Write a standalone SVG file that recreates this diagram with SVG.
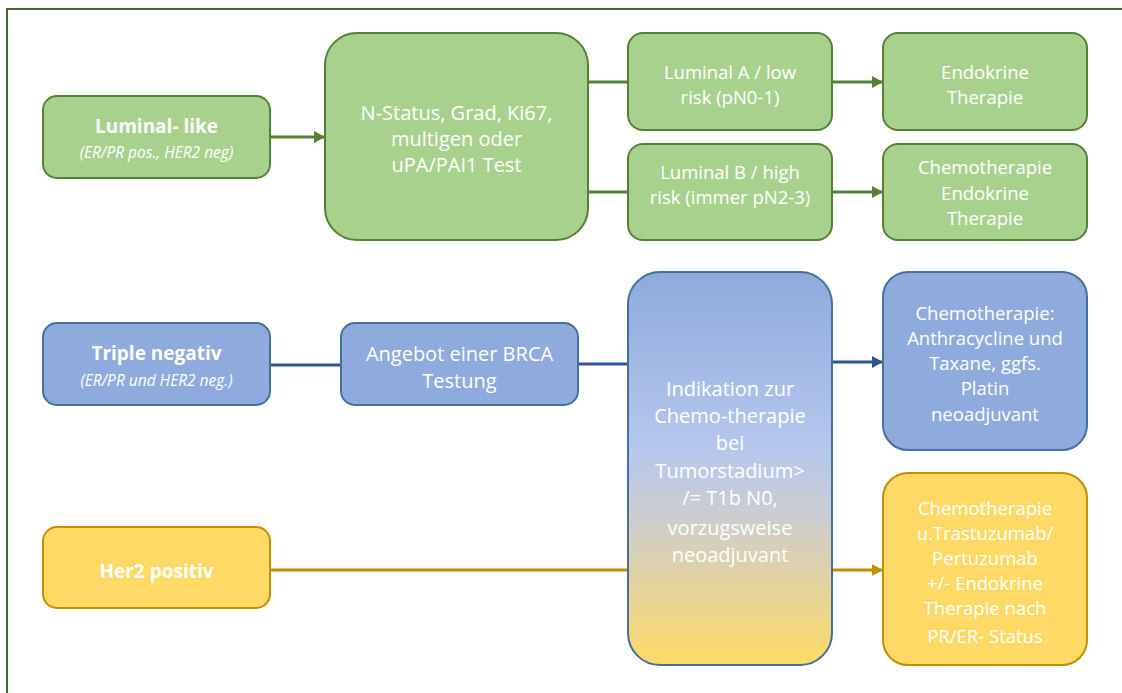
<svg xmlns="http://www.w3.org/2000/svg" width="1122" height="693" viewBox="0 0 1122 693">
<defs>
<linearGradient id="gInd" x1="0" y1="0" x2="0" y2="1">
<stop offset="0" stop-color="#8eaadb"/>
<stop offset="0.45" stop-color="#b6c7ee"/>
<stop offset="0.63" stop-color="#cdcdcd"/>
<stop offset="1" stop-color="#ffda66"/>
</linearGradient>
<marker id="aG" markerWidth="11" markerHeight="12" refX="11" refY="6" orient="auto" markerUnits="userSpaceOnUse"><path d="M0,0 L11,6 L0,12 Z" fill="#548235"/></marker>
<marker id="aB" markerWidth="11" markerHeight="12" refX="11" refY="6" orient="auto" markerUnits="userSpaceOnUse"><path d="M0,0 L11,6 L0,12 Z" fill="#2f5597"/></marker>
<marker id="aY" markerWidth="11" markerHeight="12" refX="11" refY="6" orient="auto" markerUnits="userSpaceOnUse"><path d="M0,0 L11,6 L0,12 Z" fill="#bf9000"/></marker>
</defs>
<style>
text{font-family:"Open Sans","Noto Sans","Liberation Sans",sans-serif;fill:#ffffff;text-anchor:middle;dominant-baseline:central}
.g{fill:#a9d18e;stroke:#548235;stroke-width:2}
.b{fill:#8faadc;stroke:#41719c;stroke-width:2}
.y{fill:#ffd966;stroke:#bf9000;stroke-width:2}
.t18{font-size:18.5px}
.t20{font-size:20px}
.bold{font-weight:bold;font-size:19px}
.it{font-style:italic;font-size:15.5px}
.cg{stroke:#548235;stroke-width:3;fill:none}
.cb{stroke:#2f5597;stroke-width:3;fill:none}
.cy{stroke:#bf9000;stroke-width:3;fill:none}
</style>
<rect width="1122" height="693" fill="#ffffff"/>
<rect x="7" y="9" width="1130" height="700" fill="none" stroke="#43682b" stroke-width="2"/>

<g id="connectors">
<line class="cg" x1="270" y1="137" x2="325" y2="137" marker-end="url(#aG)"/>
<line class="cg" x1="588" y1="82" x2="628" y2="82"/>
<line class="cg" x1="588" y1="192" x2="628" y2="192"/>
<line class="cg" x1="832" y1="82" x2="883" y2="82" marker-end="url(#aG)"/>
<line class="cg" x1="832" y1="192" x2="883" y2="192" marker-end="url(#aG)"/>
<line class="cb" x1="270" y1="365" x2="341" y2="365"/>
<line class="cb" x1="578" y1="364" x2="628" y2="364"/>
<line class="cb" x1="832" y1="362" x2="883" y2="362" marker-end="url(#aB)"/>
<line class="cy" x1="270" y1="570" x2="628" y2="570"/>
<line class="cy" x1="832" y1="570" x2="883" y2="570" marker-end="url(#aY)"/>
</g>

<g id="luminal-like">
<rect class="g" x="43" y="96" width="227" height="82" rx="14"/>
<text class="bold" x="156.5" y="126">Luminal- like</text>
<text class="it" x="156.5" y="152">(ER/PR pos., HER2 neg)</text>
</g>
<g id="n-status">
<rect class="g" x="325" y="33" width="263" height="207" rx="32"/>
<text class="t20" x="456.5" y="112">N-Status, Grad, Ki67,</text>
<text class="t20" x="456.5" y="138">multigen oder</text>
<text class="t20" x="456.5" y="164">uPA/PAI1 Test</text>
</g>
<g id="luminal-a">
<rect class="g" x="628" y="33" width="204" height="97" rx="15"/>
<text class="t18" x="730" y="71">Luminal A / low</text>
<text class="t18" x="730" y="96">risk (pN0-1)</text>
</g>
<g id="luminal-b">
<rect class="g" x="628" y="144" width="204" height="96" rx="15"/>
<text class="t18" x="730" y="171">Luminal B / high</text>
<text class="t18" x="730" y="196">risk (immer pN2-3)</text>
</g>
<g id="endokrine">
<rect class="g" x="883" y="33" width="204" height="97" rx="15"/>
<text class="t18" x="985" y="71">Endokrine</text>
<text class="t18" x="985" y="96">Therapie</text>
</g>
<g id="chemo-endokrine">
<rect class="g" x="883" y="144" width="204" height="96" rx="15"/>
<text class="t18" x="985" y="166">Chemotherapie</text>
<text class="t18" x="985" y="192">Endokrine</text>
<text class="t18" x="985" y="217">Therapie</text>
</g>
<g id="triple-negativ">
<rect class="b" x="43" y="323" width="227" height="82" rx="14"/>
<text class="bold" x="156.5" y="353">Triple negativ</text>
<text class="it" x="156.5" y="380">(ER/PR und HER2 neg.)</text>
</g>
<g id="brca">
<rect class="b" x="341" y="323" width="237" height="82" rx="14"/>
<text class="t20" x="459.5" y="353">Angebot einer BRCA</text>
<text class="t20" x="459.5" y="380">Testung</text>
</g>
<g id="indikation">
<rect x="628" y="272" width="204" height="393" rx="32" fill="url(#gInd)" stroke="#41719c" stroke-width="2"/>
<text class="t20" x="730" y="388">Indikation zur</text>
<text class="t20" x="730" y="415">Chemo-therapie</text>
<text class="t20" x="730" y="442">bei</text>
<text class="t20" x="730" y="470">Tumorstadium&gt;</text>
<text class="t20" x="730" y="497">/= T1b N0,</text>
<text class="t20" x="730" y="527">vorzugsweise</text>
<text class="t20" x="730" y="554">neoadjuvant</text>
</g>
<g id="chemo-triple">
<rect class="b" x="883" y="272" width="204" height="178" rx="25"/>
<text class="t18" x="985" y="312">Chemotherapie:</text>
<text class="t18" x="985" y="337">Anthracycline und</text>
<text class="t18" x="985" y="362">Taxane, ggfs.</text>
<text class="t18" x="985" y="387">Platin</text>
<text class="t18" x="985" y="413">neoadjuvant</text>
</g>
<g id="her2-positiv">
<rect class="y" x="43" y="527" width="227" height="81" rx="14"/>
<text class="bold" x="156.5" y="571">Her2 positiv</text>
</g>
<g id="chemo-her2">
<rect class="y" x="883" y="473" width="204" height="192" rx="25"/>
<text class="t18" x="985" y="507">Chemotherapie</text>
<text class="t18" x="985" y="532">u.Trastuzumab/</text>
<text class="t18" x="985" y="557">Pertuzumab</text>
<text class="t18" x="985" y="582">+/- Endokrine</text>
<text class="t18" x="985" y="607">Therapie nach</text>
<text class="t18" x="985" y="635">PR/ER- Status</text>
</g>
</svg>
